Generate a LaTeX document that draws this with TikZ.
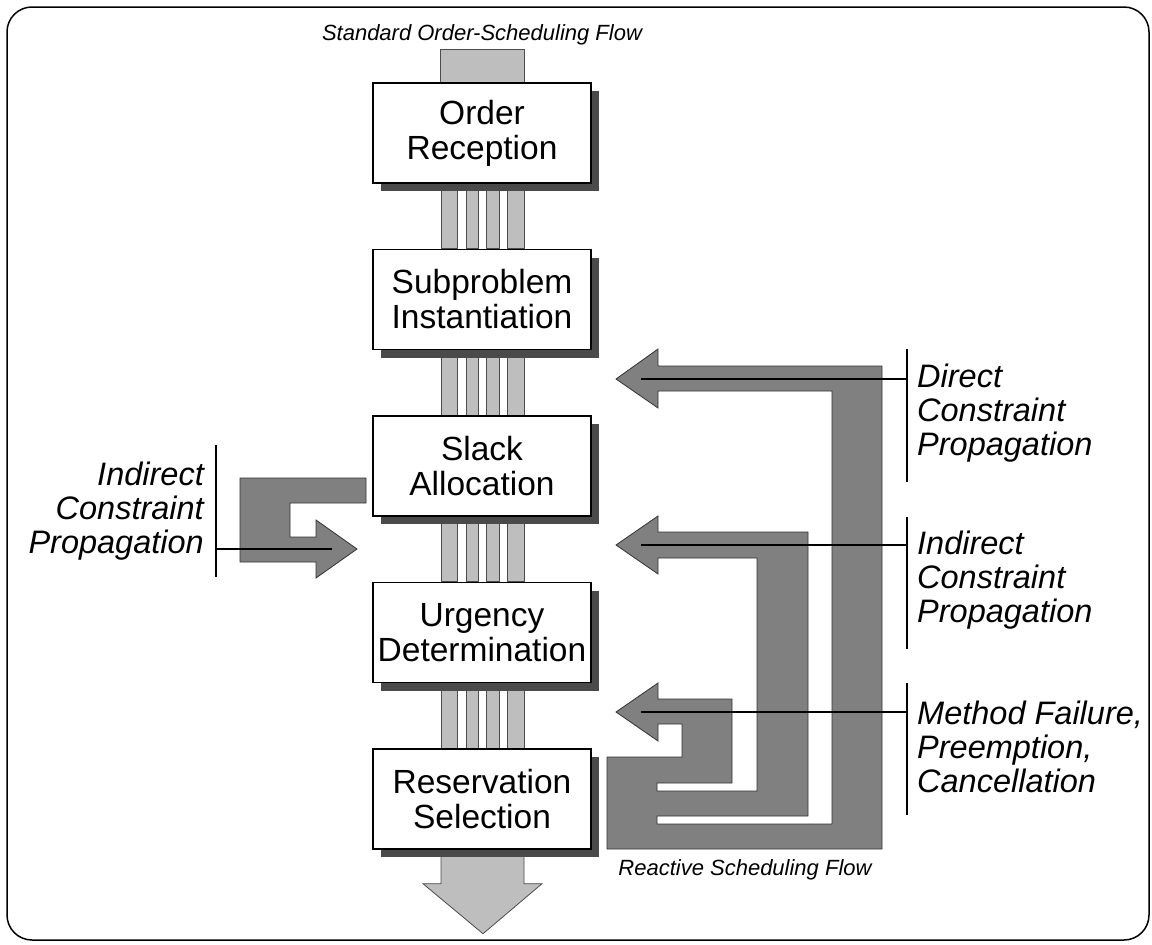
\documentclass[tikz,border=0pt]{standalone}
\usepackage{fontspec}
\setmainfont{Liberation Sans}
\usetikzlibrary{shadows,calc,backgrounds}
\definecolor{flowgray}{HTML}{BEBEBE}
\definecolor{reactgray}{HTML}{808080}
\definecolor{shadegray}{HTML}{4A4A4A}
\begin{document}
\begin{tikzpicture}[x=1pt,y=-1pt,
  stepbox/.style={draw=black,line width=1.4pt,fill=white,minimum width=218pt,
    minimum height=100pt,align=center,inner sep=0pt,
    font=\fontsize{33.5}{35}\selectfont,
    drop shadow={shadow xshift=8pt,shadow yshift=-8pt,fill=shadegray,opacity=1}},
  lane/.style={fill=flowgray,draw=black!70,line width=0.8pt},
  react/.style={fill=reactgray,draw=black!80,line width=0.8pt,line join=miter},
  leader/.style={draw=black,line width=1.8pt},
  tag/.style={font=\fontsize{32.5}{34}\selectfont\itshape,inner sep=0pt},
  caption/.style={font=\fontsize{22}{26}\selectfont\itshape,inner sep=0pt}]

\useasboundingbox (0,0) rectangle (1152,945);
\draw[line width=1.5pt,rounded corners=25pt] (7,7) rectangle (1149,940);

% the five scheduling stages
\node[stepbox] (order)   at (482,133)   {Order\\Reception};
\node[stepbox] (sub)     at (482,299.5) {Subproblem\\Instantiation};
\node[stepbox] (slack)   at (482,466)   {Slack\\Allocation};
\node[stepbox] (urgency) at (482,632.5) {Urgency\\Determination};
\node[stepbox] (reserve) at (482,799)   {Reservation\\Selection};

% standard flow: input bar, striped lanes, output arrow
\begin{scope}[on background layer]
  \filldraw[lane] ($(order.north)+(-42,-33)$) rectangle ($(order.north)+(42,0)$);
  \foreach \a/\b in {order/sub,sub/slack,slack/urgency,urgency/reserve} {
    \foreach \l/\r in {-41/-25,-16/-4,4/17,25/42}
      \filldraw[lane] ($(\a.south)+(\l,0)$) rectangle ($(\b.north)+(\r,0)$);
  }
  \filldraw[lane] ($(reserve.south)+(-41,0)$) -- ($(reserve.south)+(-41,34)$)
    -- ($(reserve.south)+(-59,34)$) -- ($(reserve.south)+(1,84)$)
    -- ($(reserve.south)+(60,34)$) -- ($(reserve.south)+(42,34)$)
    -- ($(reserve.south)+(42,0)$) -- cycle;
\end{scope}

% indirect propagation on the left
\filldraw[react] (366,478) -- (240,478) -- (240,562) -- (316,562) -- (316,578)
  -- (357,549) -- (316,520) -- (316,537) -- (290,537) -- (290,503)
  -- (366,503) -- cycle;

% reactive scheduling flow: three nested return arrows
\filldraw[react] (616,379) -- (658,349) -- (658,366) -- (882,366) -- (882,849)
  -- (607,849) -- (607,757) -- (682,757) -- (682,724) -- (658,724) -- (658,741)
  -- (616,712) -- (658,683) -- (658,699) -- (732,699) -- (732,783) -- (657,783)
  -- (657,791) -- (757,791) -- (757,558) -- (658,558) -- (658,574) -- (616,545)
  -- (658,516) -- (658,532) -- (808,532) -- (808,816) -- (657,816) -- (657,824)
  -- (832,824) -- (832,391) -- (658,391) -- (658,408) -- cycle;

% leader lines
\coordinate (dTop) at (907,349);  \coordinate (dBot) at (907,482);
\coordinate (dTip) at (641,379);  \coordinate (dJoin) at (907,379);
\coordinate (iTop) at (907,517);  \coordinate (iBot) at (907,649);
\coordinate (iTip) at (641,545);  \coordinate (iJoin) at (907,545);
\coordinate (mTop) at (907,683);  \coordinate (mBot) at (907,815);
\coordinate (mTip) at (641,712);  \coordinate (mJoin) at (907,712);
\coordinate (lTop) at (216,445);  \coordinate (lBot) at (216,577);
\coordinate (lJoin) at (216,549); \coordinate (lTip) at (332,549);
\draw[leader] (dTop) -- (dBot);  \draw[leader] (dTip) -- (dJoin);
\draw[leader] (iTop) -- (iBot);  \draw[leader] (iTip) -- (iJoin);
\draw[leader] (mTop) -- (mBot);  \draw[leader] (mTip) -- (mJoin);
\draw[leader] (lTop) -- (lBot);  \draw[leader] (lJoin) -- (lTip);

% labels
\node[tag,anchor=west,align=left]  (direct) at (917,413) {Direct\\Constraint\\Propagation};
\node[tag,anchor=west,align=left]  (indirR) at (917,580) {Indirect\\Constraint\\Propagation};
\node[tag,anchor=west,align=left]  (method) at (917,747) {Method Failure,\\Preemption,\\Cancellation};
\node[tag,anchor=east,align=right] (indirL) at (204,511) {Indirect\\Constraint\\Propagation};
\node[caption] (stdflow) at (482,35)  {Standard Order-Scheduling Flow};
\node[caption] (reflow)  at (745,870) {Reactive Scheduling Flow};
\end{tikzpicture}
\end{document}
